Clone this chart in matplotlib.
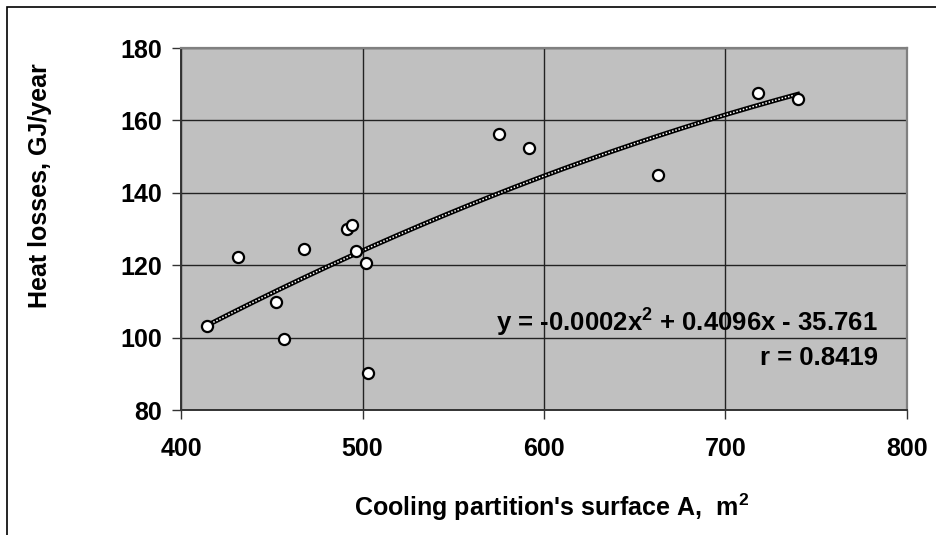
import numpy as np
import matplotlib
matplotlib.use('Agg')
import matplotlib.pyplot as plt
from matplotlib.patches import Rectangle

# cooling partition surface (m2) vs heat losses (GJ/year)
area = [414.5, 431.6, 452.2, 456.7, 467.6, 491.6, 494.2, 496.2, 501.8, 503.0,
        575.0, 592.0, 662.6, 718.0, 739.8]
losses = [103.3, 122.2, 109.9, 99.5, 124.4, 129.9, 131.1, 123.8, 120.5, 90.1,
          156.3, 152.5, 144.8, 167.5, 165.8]

eq_text = 'y = -0.0002x$^2$ + 0.4096x - 35.761'
r_text = 'r = 0.8419'
x_ticks = [400, 500, 600, 700, 800]
y_ticks = [80, 100, 120, 140, 160, 180]

plt.rcParams['font.family'] = 'Liberation Sans'
plt.rcParams['font.weight'] = 'bold'
plt.rcParams['mathtext.fontset'] = 'custom'
plt.rcParams['mathtext.rm'] = 'Liberation Sans:bold'
plt.rcParams['mathtext.it'] = 'Liberation Sans:bold'
plt.rcParams['mathtext.bf'] = 'Liberation Sans:bold'

fs = 18

fig = plt.figure(figsize=(9.37, 5.35), dpi=100)
ax = fig.add_axes([181/937, 1 - 410/535, 726/937, 362/535])
ax.set_facecolor('#c0c0c0')

# frame around the whole chart (only left/top edges fall inside the image)
fig.patches.append(Rectangle((7/937, -0.5), 2, 1.5 - 7/535, transform=fig.transFigure,
                             fill=False, edgecolor='black', lw=1.2))

ax.set_xlim(400, 800)
ax.set_ylim(80, 180)
ax.set_xticks(x_ticks)
ax.set_yticks(y_ticks)
ax.grid(True, color='#222222', lw=1.0)
ax.set_axisbelow(True)

for side in ['top', 'right']:
    ax.spines[side].set_color('#808080')
    ax.spines[side].set_linewidth(1.6)
for side in ['left', 'bottom']:
    ax.spines[side].set_color('#333333')
    ax.spines[side].set_linewidth(1.4)

ax.tick_params(direction='out', length=6.5, width=1.0, color='#333333',
               labelsize=fs)
ax.tick_params(axis='y', pad=7)
ax.tick_params(axis='x', pad=13)
for lab in ax.get_xticklabels() + ax.get_yticklabels():
    lab.set_fontweight('bold')

# quadratic trend line fitted to the points
coef = np.polyfit(area, losses, 2)
xs = np.linspace(min(area), max(area), 200)
ys = np.polyval(coef, xs)
ax.plot(xs, ys, color='black', lw=3.4, zorder=3)
ax.plot(xs, ys, color='white', lw=1.1, ls=(0, (1, 1.2)), zorder=3)

ax.plot(area, losses, 'o', ms=8, mfc='white', mec='black', mew=1.6, zorder=4)

ax.text(0.96, 0.24, eq_text, transform=ax.transAxes, ha='right', va='center',
        fontsize=fs + 0.5, fontweight='bold')
ax.text(0.96, 0.144, r_text, transform=ax.transAxes, ha='right', va='center',
        fontsize=fs + 0.5, fontweight='bold')

ax.set_ylabel('Heat losses, GJ/year', fontsize=fs, fontweight='bold', va='center')
ax.yaxis.set_label_coords(-0.194, 0.62)
ax.set_xlabel("Cooling partition's surface A,  m$^2$", fontsize=fs,
              fontweight='bold', va='center')
ax.xaxis.set_label_coords(0.51, -0.268)

fig.savefig('out.png', dpi=100)
